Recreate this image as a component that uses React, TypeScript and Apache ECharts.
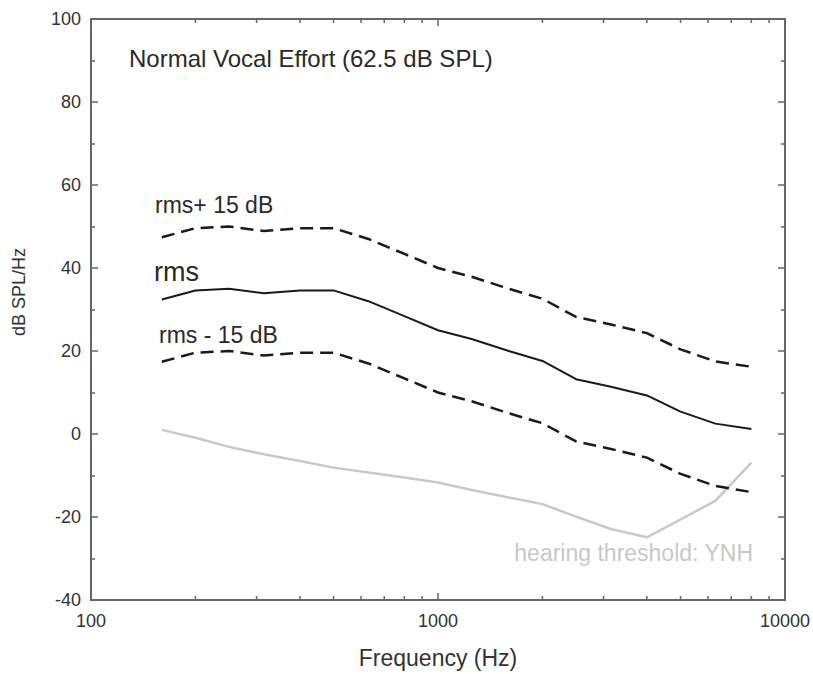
import React, { useEffect, useRef } from "react";
import * as echarts from "echarts";

const freqs = [160, 200, 250, 315, 400, 500, 630, 800, 1000, 1250, 1600, 2000, 2500, 3150, 4000, 5000, 6300, 8000];
const rms = [32.4, 34.6, 35.0, 33.9, 34.6, 34.6, 32.0, 28.4, 25.0, 22.9, 20.0, 17.6, 13.2, 11.4, 9.3, 5.4, 2.5, 1.2];
const rmsPlus15 = [47.4, 49.6, 50.0, 48.9, 49.6, 49.6, 47.0, 43.4, 40.0, 37.9, 35.0, 32.6, 28.2, 26.4, 24.3, 20.4, 17.5, 16.2];
const rmsMinus15 = [17.4, 19.6, 20.0, 18.9, 19.6, 19.6, 17.0, 13.4, 10.0, 7.9, 5.0, 2.6, -1.8, -3.6, -5.7, -9.6, -12.5, -14.0];
const threshold = [1.0, -0.9, -3.1, -4.9, -6.5, -8.1, -9.3, -10.5, -11.7, -13.5, -15.3, -16.9, -19.9, -22.9, -24.9, -20.6, -16.1, -6.9];
const minorFreqs = [200, 300, 400, 500, 600, 700, 800, 900, 2000, 3000, 4000, 5000, 6000, 7000, 8000, 9000];

const title = "Normal Vocal Effort (62.5 dB SPL)";
const xName = "Frequency (Hz)";
const yName = "dB SPL/Hz";
const labelPlus = "rms+ 15 dB";
const labelRms = "rms";
const labelMinus = "rms - 15 dB";
const labelThreshold = "hearing threshold: YNH";

const FONT = "'Liberation Sans', Arial, Helvetica, sans-serif";
const AXIS_COLOR = "#666";
const TEXT_COLOR = "#2a2a2a";

const pairs = (ys: number[]) => freqs.map((f, i) => [f, ys[i]]);

export default function App() {
  const ref = useRef<HTMLDivElement>(null);
  useEffect(() => {
    if (!ref.current) return;
    const chart = echarts.init(ref.current, undefined, { renderer: "svg" });
    const axisLine = { show: true, onZero: false, lineStyle: { color: AXIS_COLOR, width: 2 } };
    const axisTick = { show: true, inside: true, length: 7, lineStyle: { color: AXIS_COLOR, width: 1.5 } };
    const minorTick = { show: true, splitNumber: 2, length: 4, lineStyle: { color: AXIS_COLOR, width: 1.5 } };
    const option: any = {
      animation: false,
      grid: { left: 91, top: 19, width: 694, height: 582 },
      xAxis: [
        {
          type: "log",
          logBase: 10,
          min: 100,
          max: 10000,
          position: "bottom",
          axisLine,
          axisTick,
          splitLine: { show: false },
          axisLabel: {
            fontSize: 18,
            fontFamily: FONT,
            color: "#333",
            margin: 12,
            formatter: (v: number) => String(Math.round(v)),
          },
          name: xName,
          nameLocation: "middle",
          nameGap: 46,
          nameTextStyle: { fontSize: 23, fontFamily: FONT, color: "#333" },
        },
        {
          type: "log",
          logBase: 10,
          min: 100,
          max: 10000,
          position: "top",
          axisLine,
          axisTick,
          splitLine: { show: false },
          axisLabel: { show: false },
        },
      ],
      yAxis: [
        {
          type: "value",
          min: -40,
          max: 100,
          interval: 20,
          position: "left",
          axisLine,
          axisTick,
          minorTick,
          splitLine: { show: false },
          axisLabel: { fontSize: 18, fontFamily: FONT, color: "#333", margin: 10 },
        },
        {
          type: "value",
          min: -40,
          max: 100,
          interval: 20,
          position: "right",
          axisLine,
          axisTick,
          minorTick,
          splitLine: { show: false },
          axisLabel: { show: false },
        },
      ],
      series: [
        {
          type: "line",
          name: "threshold",
          data: pairs(threshold),
          showSymbol: false,
          symbol: "none",
          lineStyle: { color: "#c8c8c8", width: 2.5 },
          z: 2,
        },
        {
          type: "line",
          name: "rms+15",
          data: pairs(rmsPlus15),
          showSymbol: false,
          symbol: "none",
          lineStyle: { color: "#1a1a1a", width: 2.5, type: [13, 7] },
          z: 3,
        },
        {
          type: "line",
          name: "rms",
          data: pairs(rms),
          showSymbol: false,
          symbol: "none",
          lineStyle: { color: "#1a1a1a", width: 2 },
          z: 3,
        },
        {
          type: "line",
          name: "rms-15",
          data: pairs(rmsMinus15),
          showSymbol: false,
          symbol: "none",
          lineStyle: { color: "#1a1a1a", width: 2.5, type: [13, 7] },
          z: 3,
        },
        {
          type: "custom",
          name: "minorTicks",
          data: minorFreqs.map((f) => [f, 0]),
          encode: { x: 0, y: 1 },
          clip: false,
          silent: true,
          renderItem: (params: any, api: any) => {
            const f = api.value(0);
            const b = api.coord([f, -40]);
            const t = api.coord([f, 100]);
            const st = { stroke: AXIS_COLOR, lineWidth: 1.5 };
            return {
              type: "group",
              children: [
                { type: "line", shape: { x1: b[0], y1: b[1], x2: b[0], y2: b[1] - 4 }, style: st },
                { type: "line", shape: { x1: t[0], y1: t[1], x2: t[0], y2: t[1] + 4 }, style: st },
              ],
            };
          },
        },
      ],
      graphic: [
        {
          type: "text",
          x: 129,
          y: 58,
          style: { text: title, fontSize: 24, fontFamily: FONT, fill: TEXT_COLOR, textAlign: "left", textVerticalAlign: "middle" },
        },
        {
          type: "text",
          x: 155,
          y: 205,
          style: { text: labelPlus, fontSize: 23, fontFamily: FONT, fill: TEXT_COLOR, textAlign: "left", textVerticalAlign: "middle" },
        },
        {
          type: "text",
          x: 154,
          y: 272,
          style: { text: labelRms, fontSize: 27, fontFamily: FONT, fill: TEXT_COLOR, textAlign: "left", textVerticalAlign: "middle" },
        },
        {
          type: "text",
          x: 159,
          y: 335,
          style: { text: labelMinus, fontSize: 23, fontFamily: FONT, fill: TEXT_COLOR, textAlign: "left", textVerticalAlign: "middle" },
        },
        {
          type: "text",
          x: 753,
          y: 553,
          style: { text: labelThreshold, fontSize: 23, fontFamily: FONT, fill: "#c8c8c8", textAlign: "right", textVerticalAlign: "middle" },
        },
        {
          type: "text",
          x: 19,
          y: 292,
          rotation: Math.PI / 2,
          style: { text: yName, fontSize: 18, fontFamily: FONT, fill: "#333", textAlign: "center", textVerticalAlign: "middle" },
        },
      ],
    };
    chart.setOption(option);
    return () => chart.dispose();
  }, []);
  return <div ref={ref} style={{ position: "fixed", left: 0, top: 0, width: 813, height: 674, background: "#fff" }} />;
}
